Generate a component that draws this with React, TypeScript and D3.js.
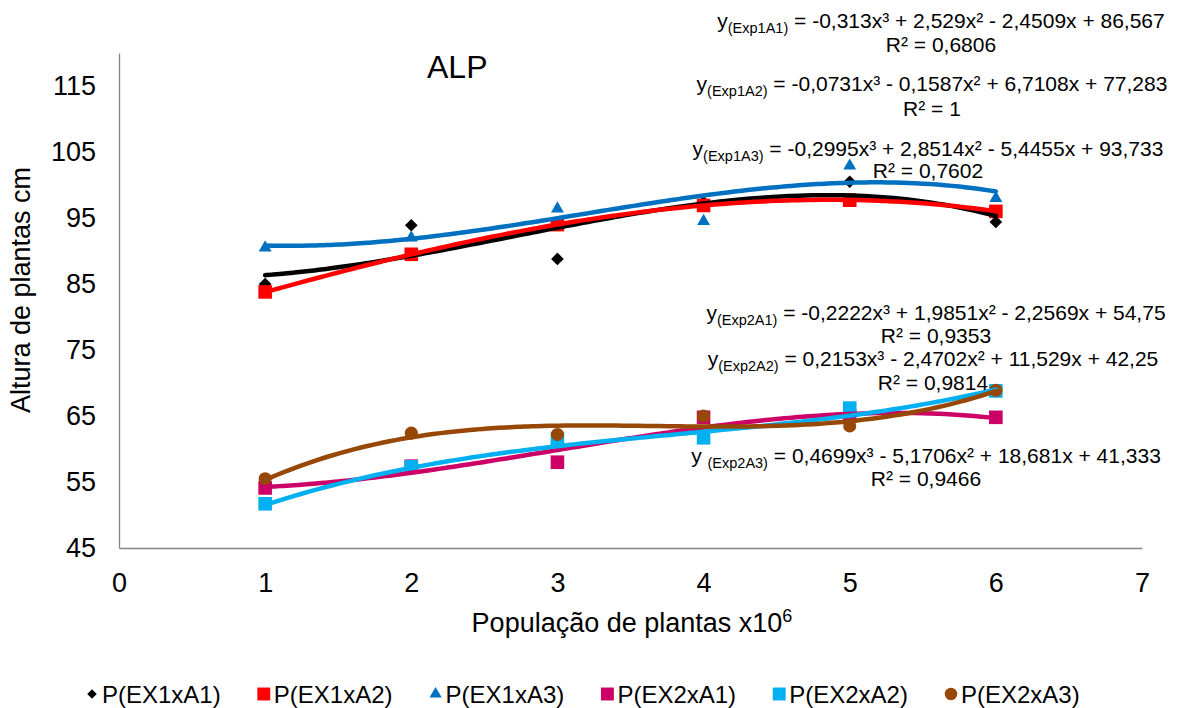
import { useEffect, useRef } from 'react';
import * as d3 from 'd3';

// eixo x: população de plantas (x10^6)
const xTicks = [0, 1, 2, 3, 4, 5, 6, 7];
const yTicks = [45, 55, 65, 75, 85, 95, 105, 115];
const populacao = [1, 2, 3, 4, 5, 6];

// alturas observadas (cm)
const ex1a1 = [85.0, 93.9, 88.8, 97.4, 100.5, 94.4];
const ex1a2 = [83.8, 89.5, 94.0, 96.9, 97.7, 96.0];
const ex1a3 = [90.5, 92.0, 96.4, 94.5, 102.9, 98.0];
const ex2a1 = [54.1, 57.4, 58.0, 64.8, 65.0, 64.8];
const ex2a2 = [51.7, 57.3, 61.5, 61.7, 66.2, 68.8];
const ex2a3 = [55.5, 62.4, 62.2, 65.0, 63.5, 68.9];

// coeficientes das linhas de tendência (x³, x², x, constante)
const coefEx1a1 = [-0.313, 2.529, -2.4509, 86.567];
const coefEx1a2 = [-0.0731, -0.1587, 6.7108, 77.283];
const coefEx1a3 = [-0.2995, 2.8514, -5.4455, 93.733];
const coefEx2a1 = [-0.2222, 1.9851, -2.2569, 54.75];
const coefEx2a2 = [0.2153, -2.4702, 11.529, 42.25];
const coefEx2a3 = [0.4699, -5.1706, 18.681, 41.333];

const r2Values = ['0,6806', '1', '0,7602', '0,9353', '0,9814', '0,9466'];
const seriesNames = ['P(EX1xA1)', 'P(EX1xA2)', 'P(EX1xA3)', 'P(EX2xA1)', 'P(EX2xA2)', 'P(EX2xA3)'];
const eqNames = ['(Exp1A1)', '(Exp1A2)', '(Exp1A3)', '(Exp2A1)', '(Exp2A2)', '(Exp2A3)'];

const series = [
  { name: seriesNames[0], values: ex1a1, coef: coefEx1a1, color: '#000000', marker: 'diamond' },
  { name: seriesNames[1], values: ex1a2, coef: coefEx1a2, color: '#FF0000', marker: 'square' },
  { name: seriesNames[2], values: ex1a3, coef: coefEx1a3, color: '#0070C0', marker: 'triangle' },
  { name: seriesNames[3], values: ex2a1, coef: coefEx2a1, color: '#CC0066', marker: 'square' },
  { name: seriesNames[4], values: ex2a2, coef: coefEx2a2, color: '#00B0F0', marker: 'square' },
  { name: seriesNames[5], values: ex2a3, coef: coefEx2a3, color: '#974806', marker: 'circle' },
];

// onde ficam as equações (centro x, linha da equação, linha do R²)
const eqLayout = [
  { cx: 941, y: 28, yr: 52, space: false },
  { cx: 932, y: 91, yr: 116, space: false },
  { cx: 928, y: 156, yr: 178, space: false },
  { cx: 936, y: 320, yr: 343, space: false },
  { cx: 933, y: 366, yr: 390, space: false },
  { cx: 926, y: 463, yr: 486, space: true },
];

const FONT = '"Liberation Sans", Arial, sans-serif';

const fmt = (v: number) => String(Math.abs(v)).replace('.', ',');

const App = () => {
  const svgRef = useRef<SVGSVGElement>(null);

  useEffect(() => {
    const width = 1184;
    const height = 708;
    const svg = d3.select(svgRef.current);
    svg.selectAll('*').remove();
    svg.attr('width', width).attr('height', height).style('font-family', FONT);

    svg.append('rect').attr('width', width).attr('height', height).attr('fill', '#fff');

    const x = d3.scaleLinear().domain([0, 7]).range([119, 1142]);
    const y = d3.scaleLinear().domain([45, 120]).range([548, 53]);

    // eixos
    const yAxis = svg.append('g')
      .attr('transform', `translate(${x(0)},0)`)
      .call(d3.axisLeft(y).tickValues(yTicks).tickSize(0).tickSizeOuter(0).tickPadding(23));
    const xAxis = svg.append('g')
      .attr('transform', `translate(0,${y(45)})`)
      .call(d3.axisBottom(x).tickValues(xTicks).tickFormat(d3.format('d')).tickSize(0).tickSizeOuter(0).tickPadding(25));
    [yAxis, xAxis].forEach(g => {
      g.select('.domain').attr('stroke', '#868686').attr('stroke-width', 1.3);
      g.selectAll('text').attr('font-size', 27).attr('font-family', FONT).attr('fill', '#000');
    });

    // títulos
    svg.append('text')
      .attr('transform', `translate(30,290) rotate(-90)`)
      .attr('text-anchor', 'middle')
      .attr('font-size', 27)
      .text('Altura de plantas cm');

    const xt = svg.append('text')
      .attr('x', 632).attr('y', 632)
      .attr('text-anchor', 'middle')
      .attr('font-size', 27);
    xt.append('tspan').text('População de plantas x10');
    xt.append('tspan').attr('font-size', 18).attr('dy', -10).text('6');

    svg.append('text')
      .attr('x', 427).attr('y', 78)
      .attr('font-size', 32)
      .text('ALP');

    const symbolPath = (marker: string, scale = 1) => {
      if (marker === 'diamond') return d3.symbol(d3.symbolSquare, 80 * scale * scale)();
      if (marker === 'square') return d3.symbol(d3.symbolSquare, 185 * scale * scale)();
      if (marker === 'triangle') return d3.symbol(d3.symbolTriangle, 72 * scale * scale)();
      return d3.symbol(d3.symbolCircle, 135 * scale * scale)();
    };

    // marcadores
    series.forEach(s => {
      svg.append('g')
        .selectAll('path')
        .data(s.values)
        .join('path')
        .attr('d', symbolPath(s.marker))
        .attr('fill', s.color)
        .attr('transform', (d, i) =>
          `translate(${x(populacao[i])},${y(d)})` + (s.marker === 'diamond' ? ' rotate(45)' : ''));
    });

    // linhas de tendência polinomiais (ordem 3)
    const poly = (c: number[], t: number) => c[0] * t ** 3 + c[1] * t ** 2 + c[2] * t + c[3];
    const xs = d3.range(populacao[0], populacao[populacao.length - 1] + 0.0001, 0.05);
    series.forEach(s => {
      const line = d3.line<number>()
        .x(t => x(t))
        .y(t => y(poly(s.coef, t)))
        .curve(d3.curveBasis);
      svg.append('path')
        .datum(xs)
        .attr('d', line)
        .attr('fill', 'none')
        .attr('stroke', s.color)
        .attr('stroke-width', 4.5)
        .attr('stroke-linecap', 'round');
    });

    // equações
    series.forEach((s, i) => {
      const L = eqLayout[i];
      const c = s.coef;
      const sign = (v: number) => (v < 0 ? ' - ' : ' + ');
      const eq = svg.append('text')
        .attr('x', L.cx).attr('y', L.y)
        .attr('text-anchor', 'middle')
        .attr('font-size', 21);
      eq.append('tspan').text(L.space ? 'y ' : 'y');
      eq.append('tspan').attr('font-size', 14.5).attr('dy', 5).text(eqNames[i]);
      eq.append('tspan').attr('dy', -5)
        .text(` = ${c[0] < 0 ? '-' : ''}${fmt(c[0])}x³${sign(c[1])}${fmt(c[1])}x²${sign(c[2])}${fmt(c[2])}x${sign(c[3])}${fmt(c[3])}`);

      svg.append('text')
        .attr('x', L.cx).attr('y', L.yr)
        .attr('text-anchor', 'middle')
        .attr('font-size', 21)
        .text(`R² = ${r2Values[i]}`);
    });

    // legenda
    const legend = svg.append('g').attr('transform', 'translate(0,694)');
    series.forEach((s, i) => {
      const lx = 92 + i * 171.8;
      legend.append('path')
        .attr('d', symbolPath(s.marker, s.marker === 'diamond' ? 0.75 : 0.95))
        .attr('fill', s.color)
        .attr('transform', `translate(${lx},0)` + (s.marker === 'diamond' ? ' rotate(45)' : ''));
      legend.append('text')
        .attr('x', lx + 10)
        .attr('y', 9)
        .attr('font-size', 24)
        .text(s.name);
    });
  }, []);

  return (
    <svg ref={svgRef} style={{ position: 'absolute', left: 0, top: 0, display: 'block' }} />
  );
};

export default App;
